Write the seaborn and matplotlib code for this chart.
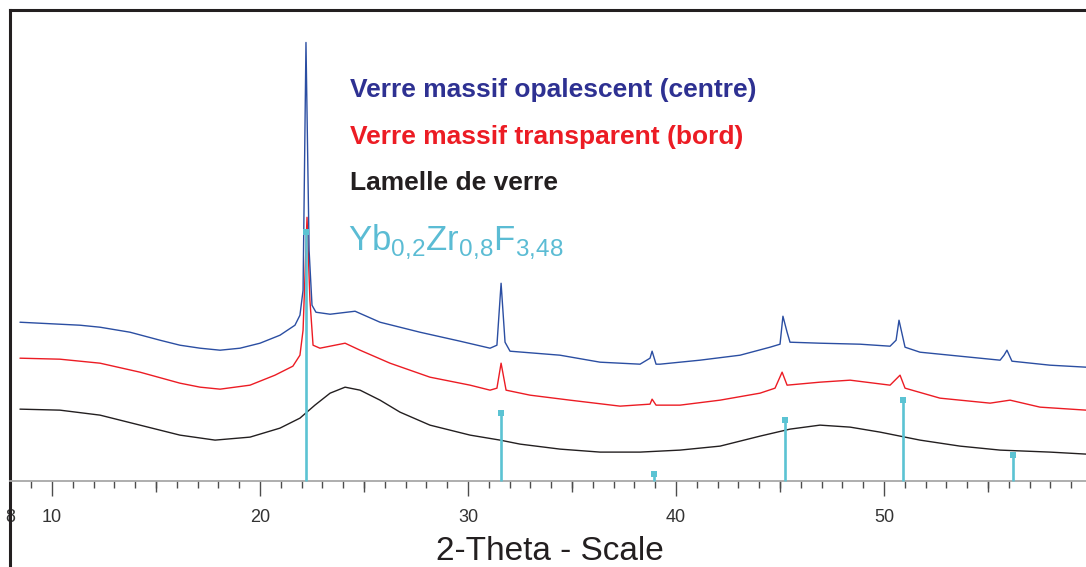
import numpy as np
import pandas as pd
import matplotlib
matplotlib.use("Agg")
import matplotlib.pyplot as plt
import seaborn as sns

# diffractogrammes (2-theta en degres, intensite en unites arbitraires)
theta_opal = [8.46, 10.38, 11.35, 12.31, 13.75, 15.19, 16.15, 17.12, 18.08, 19.04,
              20.00, 20.96, 21.68, 21.92, 22.07, 22.21, 22.36, 22.50, 22.69, 23.37,
              24.57, 25.77, 27.69, 29.62, 31.06, 31.39, 31.59, 31.78, 32.02, 34.42,
              36.35, 38.27, 38.75, 38.85, 39.04, 39.23, 41.15, 43.08, 44.52, 45.00,
              45.14, 45.34, 45.48, 46.92, 48.85, 50.29, 50.58, 50.72, 51.01, 51.73,
              53.65, 55.58, 55.77, 55.91, 56.15, 57.98, 59.71]
int_opal = [159, 157, 156, 154, 149, 141, 136, 133, 131, 133,
            138, 146, 156, 166, 191, 439, 231, 176, 169, 167,
            170, 159, 149, 140, 133, 136, 198, 139, 130, 126,
            119, 117, 123, 130, 117, 117, 121, 126, 134, 137,
            165, 149, 139, 138, 137, 135, 141, 161, 134, 129,
            125, 121, 126, 131, 120, 116, 114]

theta_transp = [8.46, 10.38, 12.31, 14.23, 16.15, 17.12, 18.08, 19.52, 20.72, 21.58,
                21.92, 22.07, 22.26, 22.40, 22.55, 22.88, 24.09, 24.81, 26.25, 28.17,
                30.10, 31.06, 31.39, 31.59, 31.83, 32.98, 34.90, 37.31, 38.75, 38.85,
                39.04, 40.19, 42.12, 44.04, 44.76, 45.10, 45.34, 46.92, 48.37, 50.29,
                50.77, 51.01, 52.69, 55.10, 56.06, 57.50, 59.71]
int_transp = [123, 122, 118, 109, 98, 94, 92, 96, 106, 115,
              126, 151, 264, 181, 136, 133, 138, 131, 118, 104,
              96, 91, 93, 118, 91, 86, 81, 75, 77, 82,
              76, 76, 81, 88, 93, 109, 96, 99, 101, 96,
              106, 93, 83, 78, 81, 74, 71]

theta_lamelle = [8.46, 10.38, 12.31, 14.23, 16.15, 17.84, 19.52, 20.96, 21.92, 22.64,
                 23.37, 24.09, 24.81, 25.77, 26.73, 28.17, 30.10, 31.54, 32.50, 34.42,
                 36.35, 38.27, 40.19, 42.12, 44.04, 45.48, 46.92, 48.37, 49.81, 51.73,
                 53.65, 55.58, 57.98, 59.71]
int_lamelle = [72, 71, 66, 56, 46, 41, 44, 53, 63, 76,
               88, 94, 91, 81, 69, 56, 46, 41, 37, 32,
               29, 29, 31, 35, 45, 52, 56, 54, 49, 41,
               35, 31, 29, 27]

# fiche de reference Yb0,2Zr0,8F3,48
theta_ref = [22.21, 31.59, 38.94, 45.24, 50.91, 56.20]
int_ref = [249, 68, 7, 61, 81, 26]

labels = ["Verre massif opalescent (centre)", "Verre massif transparent (bord)",
          "Lamelle de verre"]
colors = ["#2b4ea2", "#ec1c24", "#231f20"]
text_colors = ["#2e3192", "#ec1c24", "#231f20"]
cyan = "#5bc3d3"

sns.set_style("white")
plt.rcParams['font.family'] = ['Liberation Sans', 'DejaVu Sans']
plt.rcParams['mathtext.fontset'] = 'custom'
plt.rcParams['mathtext.rm'] = 'Liberation Sans'

fig = plt.figure(figsize=(10.86, 5.67), dpi=100)
ax = fig.add_axes([10.4 / 1086, 0.0, 1 - 10.4 / 1086, 1 - 9.5 / 567])

traces = [(theta_lamelle, int_lamelle, 2), (theta_transp, int_transp, 1),
          (theta_opal, int_opal, 0)]
for th, it, k in traces:
    df = pd.DataFrame({"theta": th, "intensite": it})
    sns.lineplot(data=df, x="theta", y="intensite", ax=ax, color=colors[k],
                 linewidth=1.0, sort=False, estimator=None)

ax.vlines(theta_ref, 0, int_ref, color=cyan, linewidth=1.9, zorder=5)
sns.scatterplot(x=theta_ref, y=int_ref, ax=ax, marker='s', s=22, color=cyan,
                edgecolor=cyan, linewidth=0, zorder=6)

ax.set_xlim(8.0, 59.71)
ax.set_ylim(-86, 472)
ax.set_xlabel("")
ax.set_ylabel("")
ax.set_yticks([])

for side in ["left", "top"]:
    ax.spines[side].set_color("#231f20")
    ax.spines[side].set_linewidth(2.2)
ax.spines["right"].set_visible(False)
ax.spines["bottom"].set_position(("data", 0))
ax.spines["bottom"].set_color("#a8a8a8")
ax.spines["bottom"].set_linewidth(1.3)

ax.set_xticks([8, 10, 20, 30, 40, 50])
ax.set_xticklabels(["8", "10", "20", "30", "40", "50"])
ax.set_xticks(np.arange(9, 60, 1), minor=True)
ax.tick_params(axis="x", which="both", bottom=True)
ax.tick_params(axis="x", which="major", direction="out", length=10.5, width=1.0,
               color="#4d4d4d", labelsize=13, labelcolor="#333333", pad=9.5)
ax.tick_params(axis="x", which="minor", direction="out", length=5, width=1.0,
               color="#4d4d4d")

sec = ax.secondary_xaxis(86 / 558)
sec.set_xticks([15, 25, 35, 45, 55])
sec.set_xticklabels([])
sec.tick_params(axis="x", bottom=True, direction="out", length=8, width=1.0,
                color="#4d4d4d")
sec.spines["bottom"].set_visible(False)

fig.text(550 / 1086, 1 - 551 / 567, "2-Theta - Scale", ha="center", va="center",
         fontsize=24, color="#231f20")

ys = [90, 137, 183]
for lab, col, y in zip(labels, text_colors, ys):
    fig.text(350 / 1086, 1 - y / 567, lab, ha="left", va="center", fontsize=19,
             fontweight="bold", color=col)
fig.text(348 / 1086, 1 - 250 / 567, r"Yb$_{0{,}2}$Zr$_{0{,}8}$F$_{3{,}48}$",
         ha="left", va="baseline", fontsize=25, color="#5bbcd4")

fig.savefig("out.png", dpi=100)
